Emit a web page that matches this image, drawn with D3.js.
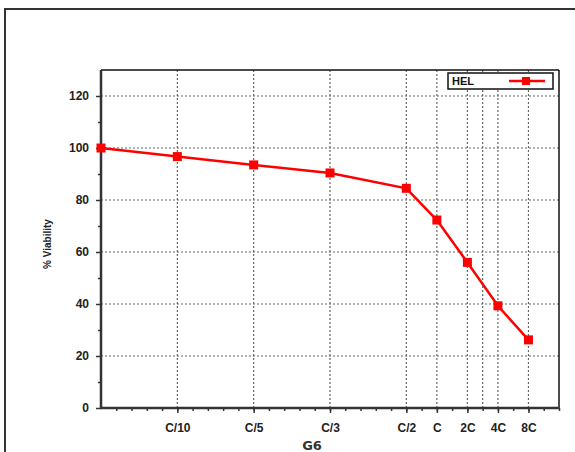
<!DOCTYPE html>
<html><head><meta charset="utf-8">
<script src="https://cdn.jsdelivr.net/npm/d3@7"></script>
<style>body{margin:0;background:#fff}svg{display:block}</style>
</head><body>
<script>
const categories = ["", "C/10", "C/5", "C/3", "C/2", "C", "2C", "4C", "8C"];
const xPositions = [0, 5, 10, 15, 20, 22, 24, 26, 28];
const viability = [100, 96.7, 93.5, 90.4, 84.5, 72.3, 56, 39.3, 26.2];
const yTicks = [0, 20, 40, 60, 80, 100, 120];
const xGridExtra = [25];
const seriesName = "HEL";

const W = 575, H = 452;
const svg = d3.select("body").append("svg").attr("width", W).attr("height", H);
svg.append("rect").attr("x", 5).attr("y", 9).attr("width", 580).attr("height", 460)
  .attr("fill", "none").attr("stroke", "#333").attr("stroke-width", 2);

const L = 101, R = 559, T = 70, B = 408;
const x = d3.scaleLinear().domain([0, 30]).range([L, R]);
const y = d3.scaleLinear().domain([0, 130]).range([B, T]);

const g = svg.append("g");
const gridX = xPositions.slice(1).concat(xGridExtra);
g.selectAll(".gx").data(gridX).join("line")
  .attr("x1", d => x(d)).attr("x2", d => x(d)).attr("y1", T).attr("y2", B)
  .attr("stroke", "#666").attr("stroke-width", 1.2).attr("stroke-dasharray", "2,2");
g.selectAll(".gy").data(yTicks.slice(1)).join("line")
  .attr("x1", L).attr("x2", R).attr("y1", d => y(d)).attr("y2", d => y(d))
  .attr("stroke", "#666").attr("stroke-width", 1.2).attr("stroke-dasharray", "2,2");

g.append("line").attr("x1", L).attr("x2", R).attr("y1", T).attr("y2", T).attr("stroke", "#111").attr("stroke-width", 1.5);
g.append("line").attr("x1", R).attr("x2", R).attr("y1", T).attr("y2", B).attr("stroke", "#111").attr("stroke-width", 1.5);

const font = "Liberation Sans, Arial, sans-serif";
const yAxis = d3.axisLeft(y).tickValues(yTicks).tickSize(5).tickPadding(7);
const ya = g.append("g").attr("transform", `translate(${L},0)`).call(yAxis);
ya.select(".domain").remove();
ya.selectAll("line").attr("stroke", "#333").attr("stroke-width", 1.5);
ya.selectAll("text").attr("font-family", font).attr("font-weight", "bold").attr("font-size", 12).attr("fill", "#222");
g.append("g").attr("transform", `translate(${L},0)`).call(d3.axisLeft(y).tickValues(d3.range(10, 130, 20)).tickSize(3).tickFormat(""))
  .call(s => { s.select(".domain").remove(); s.selectAll("line").attr("stroke", "#333").attr("stroke-width", 1.5); });

const xAxis = d3.axisBottom(x).tickValues(xPositions.slice(1)).tickFormat((d, i) => categories[i + 1]).tickSize(5).tickPadding(10);
const xa = g.append("g").attr("transform", `translate(0,${B})`).call(xAxis);
xa.select(".domain").remove();
xa.selectAll("line").attr("stroke", "#333").attr("stroke-width", 1.5);
xa.selectAll("text").attr("font-family", font).attr("font-weight", "bold").attr("font-size", 12).attr("fill", "#222");
g.append("g").attr("transform", `translate(0,${B})`).call(d3.axisBottom(x).tickValues(d3.range(1, 31)).tickSize(3).tickFormat(""))
  .call(s => { s.select(".domain").remove(); s.selectAll("line").attr("stroke", "#333").attr("stroke-width", 1.5); });

g.append("line").attr("x1", L).attr("x2", L).attr("y1", T).attr("y2", B + 1).attr("stroke", "#333").attr("stroke-width", 2.5);
g.append("line").attr("x1", L - 1).attr("x2", R).attr("y1", B).attr("y2", B).attr("stroke", "#333").attr("stroke-width", 2.5);

svg.append("text").attr("transform", `translate(51,${(T + B) / 2 + 5}) rotate(-90)`).attr("text-anchor", "middle")
  .attr("font-family", font).attr("font-weight", "bold").attr("font-size", 10).attr("fill", "#222").text("% Viability");
svg.append("text").attr("x", 312).attr("y", 450).attr("text-anchor", "middle")
  .attr("font-family", "DejaVu Sans, sans-serif").attr("font-weight", "bold").attr("font-size", 13).attr("fill", "#333").text("G6");

const pts = xPositions.map((d, i) => [d, viability[i]]);
g.append("path").datum(pts).attr("d", d3.line().x(d => x(d[0])).y(d => y(d[1])))
  .attr("fill", "none").attr("stroke", "#ff0000").attr("stroke-width", 2.5);
g.selectAll(".pt").data(pts).join("rect")
  .attr("x", d => x(d[0]) - 4.5).attr("y", d => y(d[1]) - 4.5).attr("width", 9).attr("height", 9).attr("fill", "#ff0000");

const lg = svg.append("g");
lg.append("rect").attr("x", 448).attr("y", 73).attr("width", 105).attr("height", 16).attr("fill", "#fff").attr("stroke", "#111").attr("stroke-width", 1.5);
lg.append("text").attr("x", 452).attr("y", 85).attr("font-family", font).attr("font-weight", "bold").attr("font-size", 11).attr("fill", "#111").text(seriesName);
lg.append("line").attr("x1", 509).attr("x2", 545).attr("y1", 81).attr("y2", 81).attr("stroke", "#ff0000").attr("stroke-width", 2.5);
lg.append("rect").attr("x", 522).attr("y", 77).attr("width", 8).attr("height", 8).attr("fill", "#ff0000");
</script>
</body></html>
